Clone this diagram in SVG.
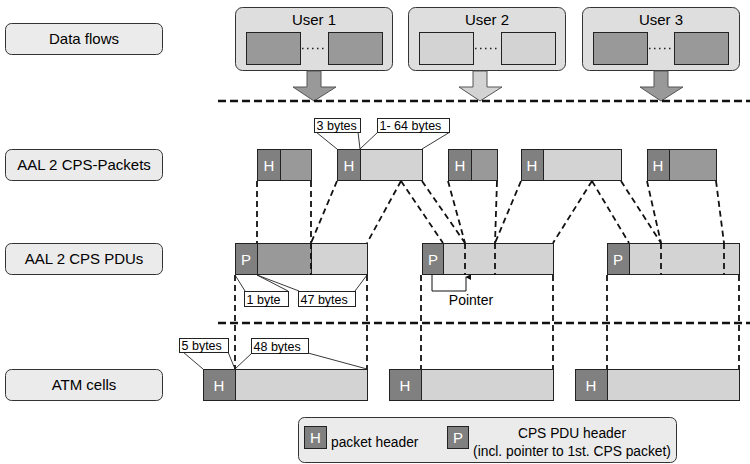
<svg xmlns="http://www.w3.org/2000/svg" width="750" height="464" viewBox="0 0 750 464">
<defs>
<style>
text{font-family:"Liberation Sans",Arial,sans-serif;fill:#000}
.lbl{fill:#ebebeb;stroke:#333;stroke-width:1}
.usr{fill:#dedede;stroke:#333;stroke-width:1}
.dk{fill:#999;stroke:#222;stroke-width:1}
.lt{fill:#d3d3d3;stroke:#222;stroke-width:1}
.hd{fill:#808080;stroke:#222;stroke-width:1}
.ht{fill:#fff;font-size:15px;text-anchor:middle}
.big{font-size:15px;text-anchor:middle}
.sm{font-size:12.5px}
.leg{font-size:13.8px}
.tag{fill:#fff;stroke:#222;stroke-width:1}
.thin{stroke:#222;stroke-width:0.9;fill:none}
.hdash{stroke:#111;stroke-width:2.5;stroke-dasharray:8 4;fill:none}
.vdash{stroke:#111;stroke-width:1.8;stroke-dasharray:6 4;fill:none}
.arrD{fill:#999;stroke:#555;stroke-width:1}
.arrL{fill:#d3d3d3;stroke:#555;stroke-width:1}
.dot{stroke:#222;stroke-width:1.5;stroke-dasharray:1.5 3.5;fill:none}
</style>
<marker id="ah" viewBox="0 0 8 8" refX="4" refY="1" markerWidth="6" markerHeight="6" orient="auto-start-reverse" markerUnits="userSpaceOnUse"><path d="M0,8 L4,0 L8,8 z" fill="#111"/></marker>
</defs>

<g id="row-labels">
<g id="lbl-dataflows"><rect class="lbl" x="5.5" y="23.5" width="157" height="31" rx="6"/><text class="big" x="84" y="44">Data flows</text></g>
<g id="lbl-packets"><rect class="lbl" x="5.5" y="149.5" width="157" height="31" rx="6"/><text class="big" x="84" y="170" font-size="14.5">AAL 2 CPS-Packets</text></g>
<g id="lbl-pdus"><rect class="lbl" x="5.5" y="243.5" width="157" height="31" rx="6"/><text class="big" x="84" y="264">AAL 2 CPS PDUs</text></g>
<g id="lbl-atm"><rect class="lbl" x="5.5" y="369.5" width="157" height="31" rx="6"/><text class="big" x="84" y="390">ATM cells</text></g>
</g>

<g id="user1">
<rect class="usr" x="235.5" y="7.5" width="157" height="63" rx="7"/>
<text class="big" x="314" y="25">User 1</text>
<rect class="dk" x="246.5" y="32.5" width="54" height="32"/>
<rect class="dk" x="328.5" y="32.5" width="54" height="32"/>
<line class="dot" x1="302" y1="48.5" x2="327" y2="48.5"/>
</g>
<g id="user2">
<rect class="usr" x="408.5" y="7.5" width="157" height="63" rx="7"/>
<text class="big" x="487" y="25">User 2</text>
<rect class="lt" x="419.5" y="32.5" width="54" height="32"/>
<rect class="lt" x="501.5" y="32.5" width="54" height="32"/>
<line class="dot" x1="475" y1="48.5" x2="500" y2="48.5"/>
</g>
<g id="user3">
<rect class="usr" x="582.5" y="7.5" width="157" height="63" rx="7"/>
<text class="big" x="661" y="25">User 3</text>
<rect class="dk" x="593.5" y="32.5" width="54" height="32"/>
<rect class="dk" x="674.5" y="32.5" width="54" height="32"/>
<line class="dot" x1="649" y1="48.5" x2="673" y2="48.5"/>
</g>

<g id="flow-arrows">
<polygon class="arrD" points="307,71 321,71 321,87 336,87 314,101 293,87 307,87"/>
<polygon class="arrL" points="473,71 487,71 487,87 502,87 480,101 459,87 473,87"/>
<polygon class="arrD" points="654,71 668,71 668,87 683,87 661,101 640,87 654,87"/>
</g>

<g id="connectors">
<line class="hdash" x1="218" y1="101" x2="750" y2="101"/>
<line class="hdash" x1="218" y1="323" x2="750" y2="323"/>
<line class="vdash" x1="257" y1="181" x2="257" y2="243"/>
<line class="vdash" x1="311" y1="181" x2="311" y2="275"/>
<line class="vdash" x1="337" y1="181" x2="311" y2="243"/>
<line class="vdash" x1="401" y1="181" x2="367" y2="243"/>
<line class="vdash" x1="401" y1="181" x2="443" y2="243"/>
<line class="vdash" x1="422" y1="181" x2="465" y2="243"/>
<line class="vdash" x1="448" y1="181" x2="465" y2="243"/>
<line class="vdash" x1="497" y1="181" x2="495" y2="243"/>
<line class="vdash" x1="521" y1="181" x2="495" y2="243"/>
<line class="vdash" x1="592" y1="181" x2="553" y2="243"/>
<line class="vdash" x1="592" y1="181" x2="629" y2="243"/>
<line class="vdash" x1="621" y1="181" x2="661" y2="243"/>
<line class="vdash" x1="647" y1="181" x2="661" y2="243"/>
<line class="vdash" x1="716" y1="181" x2="724" y2="243"/>
<line class="vdash" x1="235" y1="275" x2="235" y2="369"/>
<line class="vdash" x1="367" y1="275" x2="367" y2="369"/>
<line class="vdash" x1="421" y1="275" x2="421" y2="369"/>
<line class="vdash" x1="553" y1="275" x2="553" y2="369"/>
<line class="vdash" x1="607" y1="275" x2="607" y2="369"/>
<line class="vdash" x1="739" y1="275" x2="739" y2="369"/>
</g>

<g id="packets">
<g id="pkt1"><rect class="dk" x="280.5" y="149.5" width="31" height="31"/><rect class="hd" x="257.5" y="149.5" width="23" height="31"/><text class="ht" x="269" y="171">H</text></g>
<g id="pkt2"><rect class="lt" x="360.5" y="149.5" width="62" height="31"/><rect class="hd" x="337.5" y="149.5" width="23" height="31"/><text class="ht" x="349" y="171">H</text></g>
<g id="pkt3"><rect class="dk" x="471.5" y="149.5" width="26" height="31"/><rect class="hd" x="448.5" y="149.5" width="23" height="31"/><text class="ht" x="460" y="171">H</text></g>
<g id="pkt4"><rect class="lt" x="543.5" y="149.5" width="78" height="31"/><rect class="hd" x="521.5" y="149.5" width="22" height="31"/><text class="ht" x="532" y="171">H</text></g>
<g id="pkt5"><rect class="dk" x="669.5" y="149.5" width="47" height="31"/><rect class="hd" x="647.5" y="149.5" width="22" height="31"/><text class="ht" x="658" y="171">H</text></g>
</g>

<g id="pkt-sizes">
<line class="thin" x1="316" y1="132" x2="337" y2="149"/>
<line class="thin" x1="358" y1="132" x2="360" y2="149"/>
<line class="thin" x1="378" y1="132" x2="360" y2="149"/>
<line class="thin" x1="450" y1="132" x2="422" y2="149"/>
<rect class="tag" x="314.5" y="118.5" width="46" height="14"/>
<text class="sm" x="316.5" y="130">3 bytes</text>
<rect class="tag" x="377.5" y="118.5" width="72" height="14"/>
<text class="sm" x="379.5" y="130">1- 64 bytes</text>
</g>

<g id="pdus">
<g id="pdu1">
<rect class="lt" x="311.5" y="243.5" width="56" height="31"/>
<rect class="dk" x="257.5" y="243.5" width="54" height="31"/>
<rect class="hd" x="235.5" y="243.5" width="22" height="31"/>
<text class="ht" x="246" y="265">P</text>
</g>
<g id="pdu2">
<rect class="lt" x="443.5" y="243.5" width="110" height="31"/>
<rect class="dk" x="465.5" y="243.5" width="30" height="31" stroke="none"/>
<rect class="lt" x="443.5" y="243.5" width="110" height="31" fill="none"/>
<rect class="hd" x="422.5" y="243.5" width="21" height="31"/>
<text class="ht" x="433" y="265">P</text>
</g>
<g id="pdu3">
<rect class="lt" x="629.5" y="243.5" width="110" height="31"/>
<rect class="dk" x="661.5" y="243.5" width="63" height="31" stroke="none"/>
<rect class="lt" x="629.5" y="243.5" width="110" height="31" fill="none"/>
<rect class="hd" x="607.5" y="243.5" width="22" height="31"/>
<text class="ht" x="618" y="265">P</text>
</g>
<line class="vdash" x1="465" y1="243" x2="465" y2="275"/>
<line class="vdash" x1="495" y1="243" x2="495" y2="275"/>
<line class="vdash" x1="661" y1="243" x2="661" y2="275"/>
<line class="vdash" x1="724" y1="243" x2="724" y2="275"/>
<line class="vdash" x1="311" y1="243" x2="311" y2="275"/>
</g>

<g id="pdu-sizes">
<line class="thin" x1="235" y1="275" x2="245" y2="291"/>
<line class="thin" x1="257" y1="275" x2="288" y2="291"/>
<line class="thin" x1="257" y1="275" x2="299" y2="291"/>
<line class="thin" x1="367" y1="275" x2="355" y2="291"/>
<rect class="tag" x="244.5" y="291.5" width="44" height="15"/>
<text class="sm" x="246.5" y="303.5">1 byte</text>
<rect class="tag" x="298.5" y="291.5" width="57" height="15"/>
<text class="sm" x="300.5" y="303.5">47 bytes</text>
</g>

<g id="pointer">
<polyline fill="none" stroke="#111" stroke-width="1" points="432,275 432,291 466,291 466,277" marker-end="url(#ah)"/>
<text x="471" y="305" text-anchor="middle" font-size="14">Pointer</text>
</g>

<g id="atm-cells">
<g id="cell1"><rect class="lt" x="235.5" y="369.5" width="132" height="31"/><rect class="hd" x="203.5" y="369.5" width="32" height="31"/><text class="ht" x="219" y="391">H</text></g>
<g id="cell2"><rect class="lt" x="421.5" y="369.5" width="132" height="31"/><rect class="hd" x="389.5" y="369.5" width="32" height="31"/><text class="ht" x="405" y="391">H</text></g>
<g id="cell3"><rect class="lt" x="607.5" y="369.5" width="132" height="31"/><rect class="hd" x="575.5" y="369.5" width="32" height="31"/><text class="ht" x="591" y="391">H</text></g>
</g>

<g id="atm-sizes">
<line class="thin" x1="183" y1="352" x2="203" y2="369"/>
<line class="thin" x1="228" y1="352" x2="235" y2="369"/>
<line class="thin" x1="252" y1="353" x2="235" y2="369"/>
<line class="thin" x1="308" y1="353" x2="367" y2="369"/>
<rect class="tag" x="179.5" y="338.5" width="49" height="14"/>
<text class="sm" x="181.5" y="350">5 bytes</text>
<rect class="tag" x="251.5" y="338.5" width="57" height="15"/>
<text class="sm" x="253.5" y="350.5">48 bytes</text>
</g>

<g id="legend">
<rect class="lbl" x="298.5" y="417.5" width="378" height="45" rx="6"/>
<rect class="hd" x="304.5" y="426.5" width="22" height="22"/>
<text class="ht" x="315.5" y="443">H</text>
<text class="leg" x="331" y="447">packet header</text>
<rect class="hd" x="447.5" y="426.5" width="21" height="22"/>
<text class="ht" x="458" y="443">P</text>
<text class="leg" x="572" y="438" text-anchor="middle">CPS PDU header</text>
<text class="leg" x="572" y="456" text-anchor="middle">(incl. pointer to 1st. CPS packet)</text>
</g>
</svg>
